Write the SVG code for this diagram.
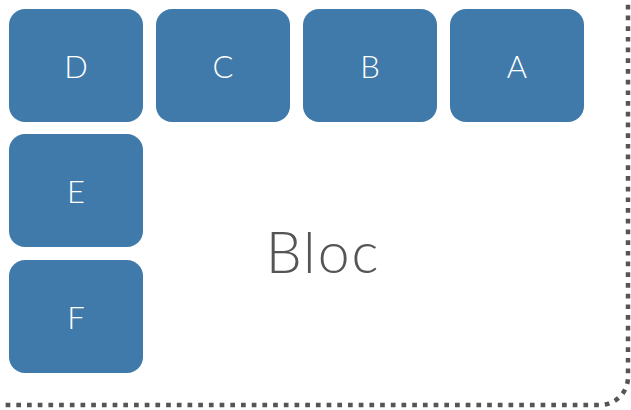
<svg xmlns="http://www.w3.org/2000/svg" width="631" height="410" viewBox="0 0 631 410">
  <style>
    .box { fill: #3f7aaa; }
    .lbl { fill: #ffffff; font-family: Lato, "Open Sans", sans-serif; font-weight: 300; font-size: 31px; text-anchor: middle; dominant-baseline: central; }
    .title { fill: #555555; font-family: Lato, "Open Sans", sans-serif; font-weight: 300; font-size: 57px; letter-spacing: 2px; text-anchor: middle; }
    .frame { fill: none; stroke: #555555; stroke-width: 4.5; stroke-dasharray: 4.7 6; }
  </style>
  <!-- dotted container, top and left edges fall outside the canvas -->
  <rect class="frame" x="-30" y="-30" width="658" height="435" rx="28" ry="28"/>
  <text class="title" x="323" y="273">Bloc</text>
  <g id="node-D"><rect class="box" x="9" y="9" width="134" height="113" rx="16"/><text class="lbl" x="76" y="66">D</text></g>
  <g id="node-C"><rect class="box" x="156" y="9" width="134" height="113" rx="16"/><text class="lbl" x="223" y="66">C</text></g>
  <g id="node-B"><rect class="box" x="303" y="9" width="134" height="113" rx="16"/><text class="lbl" x="370" y="66">B</text></g>
  <g id="node-A"><rect class="box" x="450" y="9" width="134" height="113" rx="16"/><text class="lbl" x="517" y="66">A</text></g>
  <g id="node-E"><rect class="box" x="9" y="134" width="134" height="113" rx="16"/><text class="lbl" x="76" y="191">E</text></g>
  <g id="node-F"><rect class="box" x="9" y="260" width="134" height="113" rx="16"/><text class="lbl" x="76" y="317">F</text></g>
  <g id="connectors"/>
</svg>
